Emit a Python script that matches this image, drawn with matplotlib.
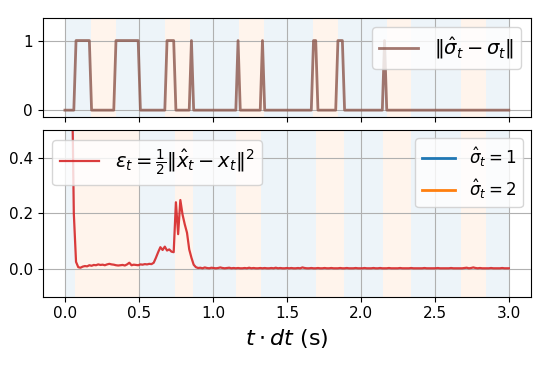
import numpy as np
import matplotlib
matplotlib.use("Agg")
import matplotlib.pyplot as plt
from matplotlib.lines import Line2D

# sample step of the simulation (s)
dt = 0.015

# true mode sigma_t: switch times and mode held on each segment
sigma_switch = [0.0, 0.175, 0.342, 0.675, 0.843, 1.176, 1.342, 1.675, 1.843,
                2.174, 2.338, 2.675, 2.843, 3.0]
sigma_mode = [1, 2, 1, 2, 1, 2, 1, 2, 1, 2, 1, 2, 1]

# estimated mode sigma_hat_t
sigma_hat_switch = [0.0, 0.067, 0.506, 0.742, 0.866, 1.158, 1.326, 1.697, 1.888,
                    2.147, 2.338, 2.675, 2.843, 3.0]
sigma_hat_mode = [1, 2, 1, 2, 1, 2, 1, 2, 1, 2, 1, 2, 1]

# state estimation error eps_t, one value per step
err = [
    3.0, 2.2, 1.4, 0.8, 0.2, 0.025, 0.006, 0.004, 0.008, 0.010,
    0.009, 0.013, 0.011, 0.014, 0.013, 0.016, 0.014, 0.015, 0.013, 0.016,
    0.018, 0.016, 0.015, 0.013, 0.012, 0.013, 0.014, 0.012, 0.016, 0.022,
    0.013, 0.015, 0.014, 0.013, 0.016, 0.015, 0.017, 0.016, 0.018, 0.017,
    0.022, 0.040, 0.060, 0.078, 0.068, 0.080, 0.066, 0.070, 0.062, 0.060,
    0.240, 0.125, 0.248, 0.195, 0.160, 0.130, 0.070, 0.040, 0.015, 0.006,
    0.003, 0.004, 0.002, 0.005, 0.003, 0.002, 0.004, 0.003, 0.002, 0.003,
    0.005, 0.003, 0.002, 0.003, 0.004, 0.002, 0.003, 0.002, 0.003, 0.002,
    0.002, 0.003, 0.002, 0.004, 0.002, 0.003, 0.002, 0.002, 0.003, 0.002,
    0.003, 0.002, 0.002, 0.003, 0.002, 0.004, 0.002, 0.003, 0.002, 0.002,
    0.003, 0.002, 0.003, 0.002, 0.002, 0.003, 0.002, 0.005, 0.003, 0.002,
    0.002, 0.003, 0.002, 0.002, 0.003, 0.002, 0.002, 0.003, 0.002, 0.002,
    0.003, 0.002, 0.002, 0.002, 0.003, 0.002, 0.002, 0.003, 0.002, 0.002,
    0.002, 0.003, 0.002, 0.002, 0.002, 0.003, 0.002, 0.002, 0.002, 0.003,
    0.002, 0.002, 0.003, 0.002, 0.002, 0.002, 0.003, 0.002, 0.002, 0.002,
    0.002, 0.003, 0.002, 0.002, 0.002, 0.002, 0.003, 0.002, 0.002, 0.002,
    0.002, 0.002, 0.003, 0.002, 0.002, 0.002, 0.002, 0.002, 0.003, 0.002,
    0.002, 0.002, 0.002, 0.002, 0.003, 0.002, 0.002, 0.002, 0.002, 0.002,
    0.003, 0.004, 0.002, 0.003, 0.005, 0.003, 0.002, 0.003, 0.002, 0.002,
    0.002, 0.002, 0.003, 0.002, 0.002, 0.002, 0.002, 0.003, 0.002, 0.002,
    0.002,
]

t = np.arange(len(err)) * dt


def mode_at(times, switch, mode):
    idx = np.searchsorted(switch, times, side="right") - 1
    idx = np.clip(idx, 0, len(mode) - 1)
    return np.array(mode)[idx]


sig = mode_at(t, sigma_switch, sigma_mode)
sig_hat = mode_at(t, sigma_hat_switch, sigma_hat_mode)
mismatch = np.abs(sig_hat - sig)

mode_colors = {1: "C0", 2: "C1"}


def shade(ax, switch, mode):
    for a, b, m in zip(switch[:-1], switch[1:], mode):
        ax.axvspan(a, b, color=mode_colors[m], alpha=0.08, lw=0, zorder=0)


fig, (ax1, ax2) = plt.subplots(2, 1, figsize=(5.48, 3.74), dpi=100, sharex=True,
                               gridspec_kw={"height_ratios": [0.6, 1]})
fig.subplots_adjust(left=0.078, right=0.969, top=0.953, bottom=0.207, hspace=0.095)

# top: mode estimation error
shade(ax1, sigma_switch, sigma_mode)
ax1.plot(t, mismatch, color="C5", lw=2, alpha=0.8,
         label=r"$\|\hat{\sigma}_t - \sigma_t\|$")
ax1.set_ylim(-0.105, 1.33)
ax1.set_yticks([0, 1])
ax1.grid(True)
ax1.legend(loc="upper right", fontsize=14)
ax1.tick_params(labelsize=11)

# bottom: state estimation error
shade(ax2, sigma_hat_switch, sigma_hat_mode)
l_err, = ax2.plot(t, err, color="C3", lw=1.6, alpha=0.9,
                  label=r"$\varepsilon_t = \frac{1}{2}\|\hat{x}_t - x_t\|^2$")
ax2.set_ylim(-0.1, 0.5)
ax2.set_yticks([0.0, 0.2, 0.4])
ax2.set_xlim(-0.15, 3.15)
ax2.grid(True)
ax2.tick_params(labelsize=11)
leg1 = ax2.legend(handles=[l_err], loc="upper left", fontsize=14)
ax2.add_artist(leg1)
proxies = [Line2D([], [], color="C0", lw=2), Line2D([], [], color="C1", lw=2)]
ax2.legend(proxies, [r"$\hat{\sigma}_t = 1$", r"$\hat{\sigma}_t = 2$"],
           loc="upper right", fontsize=12)
ax2.set_xlabel(r"$t \cdot dt$ (s)", fontsize=16)

fig.savefig("out.png", dpi=100)
